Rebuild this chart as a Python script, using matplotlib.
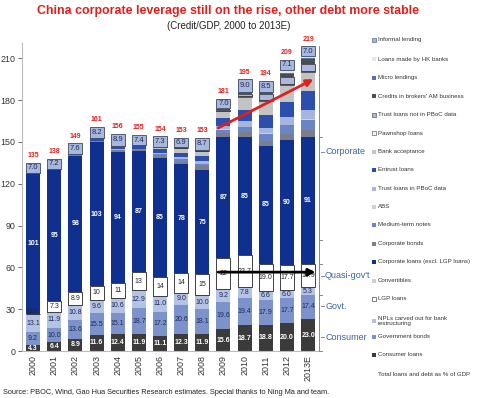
import matplotlib
matplotlib.use("Agg")
import matplotlib.pyplot as plt
from matplotlib.patches import Rectangle
import numpy as np

plt.rcParams['font.family'] = ['Liberation Sans', 'DejaVu Sans']

years = ['2000', '2001', '2002', '2003', '2004', '2005', '2006', '2007',
         '2008', '2009', '2010', '2011', '2012', '2013E']

consumer = [4.3, 6.4, 8.9, 11.6, 12.4, 11.9, 11.1, 12.3, 11.9, 15.6, 18.7, 18.8, 20.0, 23.0]
govt_bonds = [9.2, 10.0, 13.6, 15.5, 15.1, 18.7, 17.2, 20.6, 18.1, 19.6, 19.4, 17.9, 17.7, 17.4]
npl = [13.1, 11.9, 10.8, 9.6, 10.6, 12.9, 11.0, 9.0, 10.0, 9.2, 7.8, 6.6, 6.0, 5.3]
lgp = [0.0, 7.3, 8.9, 10, 11, 13, 14, 14, 15, 22, 22.7, 19.0, 17.7, 16.9]
lgp_labels = ['0.0', '7.3', '8.9', '10', '11', '13', '14', '14', '15', '22', '22.7', '19.0', '17.7', '16.9']
convertibles = [0, 0, 0, 0, 0, 0, 0, 0, 0, 0, 0, 0, 0, 0]
corp_loans = [101, 95, 98, 103, 94, 87, 85, 78, 75, 87, 85, 85, 90, 91]
corp_bonds = [0, 0, 0.6, 1.0, 1.2, 1.0, 1.5, 1.8, 2.5, 3.0, 3.5, 3.5, 4.5, 5.0]
mtn = [0, 0, 0, 0, 0, 0.5, 1.5, 2.0, 2.0, 2.5, 3.5, 5.0, 6.0, 7.0]
abs_ = [0, 0, 0, 0, 0, 0, 0, 0, 0, 0.2, 0.3, 0.5, 0.5, 0.6]
trust_pboc = [0, 0, 0, 0.2, 0.3, 0.3, 0.8, 1.2, 1.5, 2.5, 4.0, 4.0, 5.5, 6.5]
entrust = [0.4, 0.2, 0.6, 1.5, 1.8, 1.5, 2.8, 3.5, 4.0, 5.5, 8.0, 9.0, 10.5, 13.5]
bank_accept = [0, 0, 0, 0.4, 0.7, 0.7, 1.5, 3.2, 3.5, 5.0, 9.5, 10.0, 12.5, 14.0]
pawnshop = [0, 0, 0, 0, 0, 0.1, 0.1, 0.2, 0.3, 0.3, 0.5, 0.5, 0.5, 0.5]
trust_not_pboc = [0, 0, 0, 0, 0, 0, 0, 0, 0, 0.8, 1.5, 4.5, 5.0, 5.0]
brokers = [0, 0, 0, 0, 0, 0, 0.2, 0.3, 0.3, 0.5, 1.0, 0.7, 2.5, 3.5]
micro = [0, 0, 0, 0, 0, 0, 0, 0, 0, 0.1, 0.3, 0.5, 0.5, 0.8]
hk_banks = [0, 0, 0, 0, 0, 0, 0, 0, 0.2, 0.2, 0.3, 0, 2.5, 1.5]
informal = [7.0, 7.2, 7.6, 8.2, 8.9, 7.4, 7.3, 6.9, 8.7, 7.0, 9.0, 8.5, 7.1, 7.0]
totals = [135, 138, 149, 161, 156, 155, 154, 153, 153, 181, 195, 194, 209, 219]

series = [
    ('Consumer loans', consumer, '#3b3b3b', None),
    ('Government bonds', govt_bonds, '#7c92cb', None),
    ('NPLs carved out for bank\nrestructuring', npl, '#b4c2e4', None),
    ('LGP loans', lgp, '#ffffff', '#222222'),
    ('Convertibles', convertibles, '#cfcfcf', None),
    ('Corporate loans (excl. LGP loans)', corp_loans, '#10308f', None),
    ('Corporate bonds', corp_bonds, '#7b7f8c', None),
    ('Medium-term notes', mtn, '#6a84c4', None),
    ('ABS', abs_, '#c9d1e5', None),
    ('Trust loans in PBoC data', trust_pboc, '#a5b5de', None),
    ('Entrust loans', entrust, '#2c4fae', None),
    ('Bank acceptance', bank_accept, '#c3c3c3', None),
    ('Pawnshop loans', pawnshop, '#f4f4f4', '#444444'),
    ('Trust loans not in PBoC data', trust_not_pboc, '#a9b8dc', '#3a3a3a'),
    ("Credits in brokers' AM business", brokers, '#4d4d4d', None),
    ('Micro lendings', micro, '#5470b0', None),
    ('Loans made by HK banks', hk_banks, '#e2e6ef', None),
    ('Informal lending', informal, '#a8b7dc', '#3c4866'),
]

fig = plt.figure(figsize=(4.8, 3.98), dpi=100)
ax = fig.add_axes([0.046, 0.118, 0.617, 0.774])

x = np.arange(len(years))
w = 0.66
bottom = np.zeros(len(years))
bottoms = {}
for name, vals, col, ec in series:
    v = np.array(vals, dtype=float)
    bottoms[name] = bottom.copy()
    if ec is None:
        ax.bar(x, v, w, bottom=bottom, color=col, edgecolor='none', zorder=2)
    else:
        ax.bar(x, v, w, bottom=bottom, color=col, edgecolor=ec, linewidth=0.6, zorder=2)
    bottom = bottom + v

fs = 5.0
for i in range(len(years)):
    b = bottoms['Consumer loans'][i]
    ax.text(x[i], b + consumer[i] / 2, f'{consumer[i]:.1f}', ha='center', va='center',
            fontsize=fs, color='white', fontweight='bold', zorder=5)
    b = bottoms['Government bonds'][i]
    ax.text(x[i], b + govt_bonds[i] / 2, f'{govt_bonds[i]:.1f}', ha='center', va='center',
            fontsize=fs, color='#1d2a55', zorder=5)
    b = bottoms['NPLs carved out for bank\nrestructuring'][i]
    ax.text(x[i], b + npl[i] / 2, f'{npl[i]:.1f}', ha='center', va='center',
            fontsize=fs, color='#1d2a55', zorder=5)
    b = bottoms['LGP loans'][i]
    ax.text(x[i], b + max(lgp[i], 0) / 2 + (1.5 if lgp[i] == 0 else 0), lgp_labels[i],
            ha='center', va='center', fontsize=fs, color='#222222', zorder=5)
    b = bottoms['Corporate loans (excl. LGP loans)'][i]
    ax.text(x[i], b + corp_loans[i] / 2, f'{corp_loans[i]}', ha='center', va='center',
            fontsize=fs, color='white', fontweight='bold', zorder=5)
    b = bottoms['Informal lending'][i]
    ax.text(x[i], b + informal[i] / 2, f'{informal[i]:.1f}', ha='center', va='center',
            fontsize=fs + 0.4, color='#1d2a55', zorder=5)
    ax.text(x[i], bottom[i] + 2.5, f'{totals[i]}', ha='center', va='bottom',
            fontsize=fs, color='#e0201c', fontweight='bold', zorder=5)

# arrows
ax.annotate('', xy=(13.25, 195), xytext=(8.75, 160),
            arrowprops=dict(arrowstyle='-|>', color='#e0201c', lw=2.0,
                            mutation_scale=10, shrinkA=0, shrinkB=0), zorder=6)
ax.annotate('', xy=(13.35, 56.6), xytext=(8.75, 56.6),
            arrowprops=dict(arrowstyle='-|>', color='black', lw=2.0,
                            mutation_scale=10, shrinkA=0, shrinkB=0), zorder=6)

ax.set_xlim(-0.52, 13.48)
ax.set_ylim(0, 221)
ax.set_yticks(np.arange(0, 211, 30))
ax.set_xticks(x)
ax.set_xticklabels(years, rotation=90, fontsize=6.4, color='#333333')
ax.tick_params(axis='y', labelsize=6.4, colors='#555555', length=3, width=0.6,
               labelcolor='#333333', pad=2)
ax.tick_params(axis='x', length=0, pad=3)
for s in ['top', 'right']:
    ax.spines[s].set_visible(False)
ax.spines['left'].set_color('#bbbbbb')
ax.spines['bottom'].set_color('#bbbbbb')
ax.spines['left'].set_linewidth(0.8)
ax.spines['bottom'].set_linewidth(0.8)

# right-hand group brackets
trans = ax.get_yaxis_transform()
bx = 1.003
bl = '#888888'
ax.plot([bx, bx], [0, 219], transform=trans, color=bl, lw=0.7, clip_on=False)
for yb in [0, 40.0, 62.6, 79.5, 153.6]:
    ax.plot([bx, bx + 0.01], [yb, yb], transform=trans, color=bl, lw=0.7, clip_on=False)
grp_col = '#3b64a8'
groups = [('Corporate', 143), ('Quasi-gov\'t', 54), ('Govt.', 32), ('Consumer', 10)]
for name, yv in groups:
    ax.plot([bx + 0.006, bx + 0.016], [yv, yv], transform=trans, color=bl, lw=0.7, clip_on=False)
    ax.text(bx + 0.02, yv, name, transform=trans, ha='left', va='center',
            fontsize=6.5, color=grp_col)

# manual legend
leg_items = list(reversed(series))
leg_y = [40, 59, 78, 96, 115, 133, 152, 170, 189, 207, 225, 244, 262, 281, 299, 321, 337, 355]
for (name, vals, col, ec), yy in zip(leg_items, leg_y):
    fy = 1 - yy / 398
    fig.patches.append(Rectangle((372 / 480, fy - 2 / 398), 4 / 480, 4 / 398,
                                 transform=fig.transFigure, facecolor=col,
                                 edgecolor=ec if ec else 'none', linewidth=0.4))
    fig.text(378 / 480, fy, name, ha='left', va='center', fontsize=4.4, color='#333333',
             linespacing=1.0)
fig.text(378 / 480, 1 - 374 / 398, 'Total loans and debt as % of GDP', ha='left',
         va='center', fontsize=4.4, color='#333333')

fig.text(228 / 480, 1 - 11 / 398,
         'China corporate leverage still on the rise, other debt more stable',
         ha='center', va='center', fontsize=8.9, fontweight='bold', color='#e0201c')
fig.text(229 / 480, 1 - 26 / 398, '(Credit/GDP, 2000 to 2013E)', ha='center',
         va='center', fontsize=7.0, color='#222222')
fig.text(3 / 480, 1 - 392 / 398,
         'Source: PBOC, Wind, Gao Hua Securities Research estimates. Special thanks to Ning Ma and team.',
         ha='left', va='center', fontsize=5.3, color='#222222')

fig.savefig('out.png', dpi=100)
